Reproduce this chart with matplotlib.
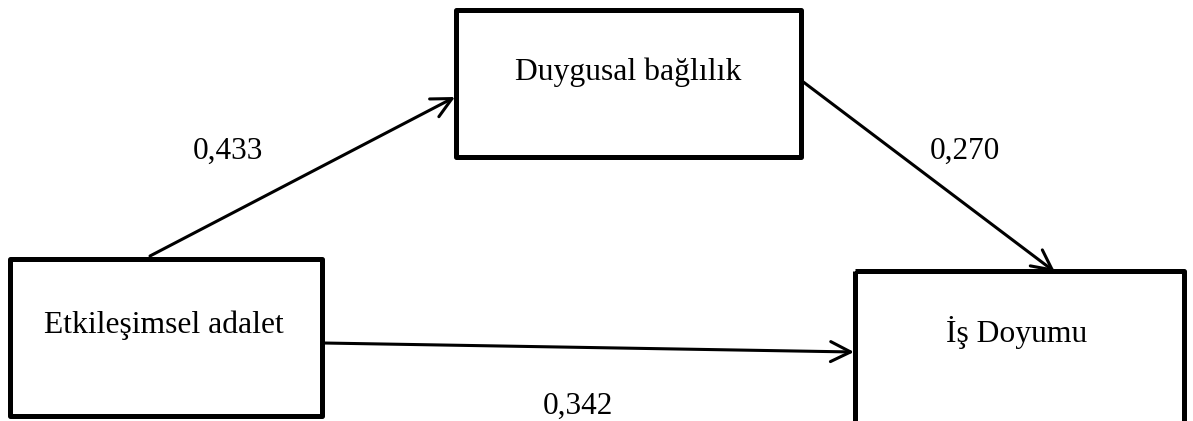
import matplotlib.pyplot as plt
from matplotlib.patches import Rectangle

# Path diagram: Etkileşimsel adalet -> Duygusal bağlılık -> İş Doyumu
box_labels = ['Duygusal bağlılık', 'Etkileşimsel adalet', 'İş Doyumu']
coef_labels = ['0,433', '0,270', '0,342']

plt.rcParams['font.family'] = ['Liberation Serif', 'DejaVu Serif']

fig = plt.figure(figsize=(11.93, 4.21), dpi=100)
ax = fig.add_axes([0, 0, 1, 1])
ax.set_xlim(0, 1193)
ax.set_ylim(421, 0)
ax.axis('off')

# boxes (x, y, w, h) in pixel units, y downward
boxes = [(456, 10, 345, 147), (10, 259, 312, 157), (855, 271, 329, 160)]
text_pos = [(628, 80), (164, 333), (1017, 342)]
for (x, y, w, h), (tx, ty), lab in zip(boxes, text_pos, box_labels):
    ax.add_patch(Rectangle((x, y), w, h, fill=False, lw=3.6, ec='black',
                           joinstyle='round', clip_on=False))
    ax.text(tx, ty, lab, ha='center', va='baseline', fontsize=22.8)

# arrows
arrows = [((150, 256), (455, 97)), ((802, 81), (1055, 272)), ((323, 343), (854, 352))]
for start, end in arrows:
    ax.annotate('', xy=end, xytext=start,
                arrowprops=dict(arrowstyle='->,head_length=0.72,head_width=0.36',
                                lw=2.2, color='black', mutation_scale=20,
                                shrinkA=0, shrinkB=0))

coef_pos = [(228, 159), (965, 159), (578, 414)]
for (cx, cy), lab in zip(coef_pos, coef_labels):
    ax.text(cx, cy, lab, ha='center', va='baseline', fontsize=22.5)

fig.savefig('out.png', dpi=100)
